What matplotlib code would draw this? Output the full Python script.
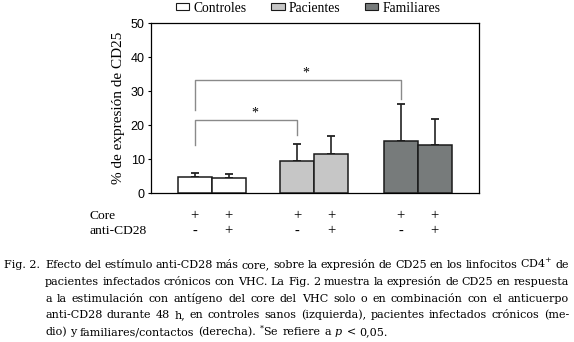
import matplotlib
matplotlib.use("Agg")
import matplotlib.pyplot as plt
import matplotlib.transforms as mtransforms
from matplotlib.patches import Patch

# Data
groups = ["Controles", "Pacientes", "Familiares"]
colors = ["#ffffff", "#c6c6c6", "#777b7b"]
mean_core = [4.7, 9.6, 15.5]
err_core = [1.3, 4.9, 10.6]
mean_core_cd28 = [4.4, 11.5, 14.1]
err_core_cd28 = [1.2, 5.3, 7.8]
core_row = ["+", "+"]
cd28_row = ["-", "+"]
# brackets: (group a, group b, left leg bottom, top, right leg bottom)
brackets = [(0, 1, 14.3, 21.6, 17.2), (0, 2, 24.6, 33.3, 27.8)]
yticks = [0, 10, 20, 30, 40, 50]

caption_lines = [
    "Efecto del estímulo anti-CD28 más core, sobre la expresión de CD25 en los linfocitos CD4$^{+}$ de",
    "pacientes infectados crónicos con VHC. La Fig. 2 muestra la expresión de CD25 en respuesta",
    "a la estimulación con antígeno del core del VHC solo o en combinación con el anticuerpo",
    "anti-CD28 durante 48 h, en controles sanos (izquierda), pacientes infectados crónicos (me-",
    "dio) y familiares/contactos (derecha). $^{*}$Se refiere a $p$ < 0,05.",
]

plt.rcParams["mathtext.fontset"] = "dejavuserif"
SERIF = ["Liberation Serif", "DejaVu Serif"]
CAPTION = ["DejaVu Serif"]
NARROW = ["Liberation Sans Narrow", "Liberation Sans", "DejaVu Sans"]

W, H = 574, 342
fig = plt.figure(figsize=(W / 100, H / 100), dpi=100)
ax = fig.add_axes([151 / W, 1 - 193.3 / H, 328 / W, 170.3 / H])

group_x = [1.78, 4.80, 7.84]
x1 = [g - 0.5 for g in group_x]
x2 = [g + 0.5 for g in group_x]

ax.bar(x1, mean_core, width=1.0, color=colors, edgecolor="#1a1a1a", linewidth=1.1, zorder=3)
ax.bar(x2, mean_core_cd28, width=1.0, color=colors, edgecolor="#1a1a1a", linewidth=1.1, zorder=3)
ax.errorbar(x1, mean_core, yerr=[[0] * 3, err_core], fmt="none", ecolor="#222222",
            elinewidth=1.2, capsize=3, capthick=1.3, zorder=2)
ax.errorbar(x2, mean_core_cd28, yerr=[[0] * 3, err_core_cd28], fmt="none", ecolor="#222222",
            elinewidth=1.2, capsize=3, capthick=1.3, zorder=2)

# significance brackets
for a, b, yl, yt, yr in brackets:
    xa, xb = x1[a], x1[b]
    ax.plot([xa, xa, xb, xb], [yl, yt, yt, yr], color="#8a8a8a", lw=1.0, zorder=1)
    ax.text((xa + xb) / 2 + 0.25, yt + 2.0, "*", ha="center", va="center",
            fontsize=10, family=SERIF)

ax.set_xlim(0, 328 / 34)
ax.set_ylim(0, 50)
ax.set_yticks(yticks)
ax.set_xticks([])
ax.tick_params(axis="y", direction="out", length=2.5, width=0.8, pad=2,
               labelsize=9)
for lab in ax.get_yticklabels():
    lab.set_family(NARROW)
for s in ax.spines.values():
    s.set_linewidth(0.9)
ax.set_ylabel("% de expresión de CD25", family=SERIF, fontsize=11, labelpad=4)

# legend
handles = [Patch(facecolor=c, edgecolor="#1a1a1a", linewidth=0.8) for c in colors]
fig.legend(handles, groups, loc="center", bbox_to_anchor=(308 / W, 1 - 8 / H),
           ncol=3, frameon=False, prop={"family": SERIF, "size": 9.8},
           handlelength=1.0, handleheight=0.4, handletextpad=0.3,
           columnspacing=1.8, borderpad=0)

# treatment rows
trans = mtransforms.blended_transform_factory(ax.transData, fig.transFigure)
fig.text(90 / W, 1 - 216 / H, "Core", family=SERIF, fontsize=9.7, va="center")
fig.text(90 / W, 1 - 231 / H, "anti-CD28", family=SERIF, fontsize=9.7, va="center")
for i in range(3):
    for xs, k in ((x1, 0), (x2, 1)):
        fig.text(xs[i], 1 - 216 / H, core_row[k], transform=trans, ha="center",
                 va="center", family=SERIF, fontsize=10.5)
        fig.text(xs[i], 1 - 231 / H, cd28_row[k], transform=trans, ha="center",
                 va="center", family=SERIF, fontsize=10.5)

# caption, justified word by word
cap_size = 8.0
left_px, right_px = 45, 569
base_y = [268, 284.8, 301.6, 318.4, 335.2]
fig.text(4 / W, 1 - base_y[0] / H, "Fig. 2.", family=CAPTION, fontsize=cap_size, va="baseline")
fig.canvas.draw()
renderer = fig.canvas.get_renderer()
for n, line in enumerate(caption_lines):
    words = line.split(" ")
    texts = [fig.text(0, 1 - base_y[n] / H, w, family=CAPTION, fontsize=cap_size,
                      va="baseline") for w in words]
    widths = [t.get_window_extent(renderer).width for t in texts]
    if n < len(caption_lines) - 1:
        gap = (right_px - left_px - sum(widths)) / (len(words) - 1)
    else:
        gap = cap_size * 100 / 72 * 0.32
    x = left_px
    for t, w in zip(texts, widths):
        t.set_x(x / W)
        x += w + gap

fig.savefig("out.png", dpi=100)
